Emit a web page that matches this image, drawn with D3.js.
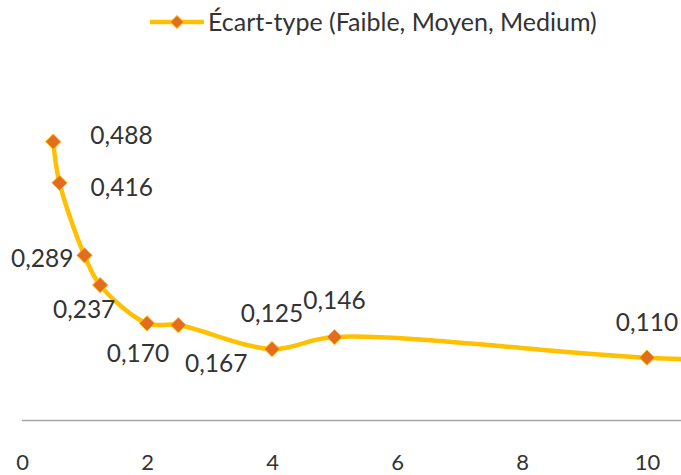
<!DOCTYPE html>
<html>
<head>
<meta charset="utf-8">
<script src="https://cdn.jsdelivr.net/npm/d3@7"></script>
<style>
  html, body { margin: 0; padding: 0; background: #fff; }
  svg { display: block; }
  text { font-family: Lato, "Open Sans", sans-serif; fill: #333; }
</style>
</head>
<body>
<svg id="chart" width="681" height="475"></svg>
<script>
// ---- data ----
const xValues = [0.5, 0.6, 1, 1.25, 2, 2.5, 4, 5, 10, 12.5];
const stdValues = [0.488, 0.416, 0.289, 0.237, 0.170, 0.167, 0.125, 0.146, 0.110, 0.104];
const valueLabels = ["0,488", "0,416", "0,289", "0,237", "0,170", "0,167", "0,125", "0,146", "0,110", ""];
const xTicks = [0, 2, 4, 6, 8, 10];
const seriesName = "Écart-type (Faible, Moyen, Medium)";

// label placement (style config)
const labelOffsets = [
  {dx: 37, dy: -6, anchor: "start"},
  {dx: 31, dy: 5, anchor: "start"},
  {dx: -11, dy: 3, anchor: "end"},
  {dx: -16, dy: 24, anchor: "middle"},
  {dx: -9, dy: 30, anchor: "middle"},
  {dx: 38, dy: 38, anchor: "middle"},
  {dx: 0, dy: -36, anchor: "middle"},
  {dx: 0, dy: -37, anchor: "middle"},
  {dx: 0, dy: -35, anchor: "middle"},
  {dx: 0, dy: -35, anchor: "middle"}
];

const lineColor = "#FFC000";
const markerColor = "#E36C1E";

const svg = d3.select("#chart");
const x = d3.scaleLinear().domain([0, 10]).range([22, 647]);
const y = d3.scaleLinear().domain([0, 0.5]).range([420.5, 134.8]);

const data = xValues.map((v, i) => ({x: v, y: stdValues[i], label: valueLabels[i], off: labelOffsets[i]}));

// axis line
svg.append("line")
  .attr("x1", x(0)).attr("x2", 681)
  .attr("y1", y(0)).attr("y2", y(0))
  .attr("stroke", "#a6a6a6").attr("stroke-width", 1.5);

// x axis tick labels
const xAxis = d3.axisBottom(x).tickValues(xTicks).tickSize(0).tickPadding(0).tickFormat(d3.format("d"));
const gx = svg.append("g").attr("transform", `translate(0, ${y(0)})`).call(xAxis);
gx.select(".domain").remove();
gx.selectAll("text")
  .attr("y", 42)
  .attr("dy", "0.35em")
  .style("font-family", "Lato, 'Open Sans', sans-serif")
  .style("font-size", "22px")
  .attr("fill", "#333");

// line
const line = d3.line().x(d => x(d.x)).y(d => y(d.y)).curve(d3.curveCatmullRom.alpha(0.5));
svg.append("path")
  .datum(data)
  .attr("d", line)
  .attr("fill", "none")
  .attr("stroke", lineColor)
  .attr("stroke-width", 4.5)
  .attr("stroke-linejoin", "round");

// markers
const diamond = d3.symbol().type(d3.symbolDiamond2).size(150);
svg.append("g").selectAll("path")
  .data(data)
  .join("path")
  .attr("d", diamond)
  .attr("transform", d => `translate(${x(d.x)},${y(d.y)})`)
  .attr("fill", markerColor)
  .attr("stroke", lineColor)
  .attr("stroke-width", 1);

// labels
svg.append("g").selectAll("text")
  .data(data)
  .join("text")
  .attr("x", d => x(d.x) + d.off.dx)
  .attr("y", d => y(d.y) + d.off.dy)
  .attr("dy", "0.35em")
  .attr("text-anchor", d => d.off.anchor)
  .style("font-size", "24.5px")
  .text(d => d.label);

// legend
const lg = svg.append("g");
lg.append("line").attr("x1", 150).attr("x2", 204).attr("y1", 22).attr("y2", 22)
  .attr("stroke", lineColor).attr("stroke-width", 4.5);
lg.append("path").attr("d", d3.symbol().type(d3.symbolDiamond2).size(110))
  .attr("transform", "translate(177,22)")
  .attr("fill", markerColor).attr("stroke", lineColor).attr("stroke-width", 1);
lg.append("text").attr("x", 208).attr("y", 22).attr("dy", "0.35em")
  .style("font-size", "25px").text(seriesName);
</script>
</body>
</html>
